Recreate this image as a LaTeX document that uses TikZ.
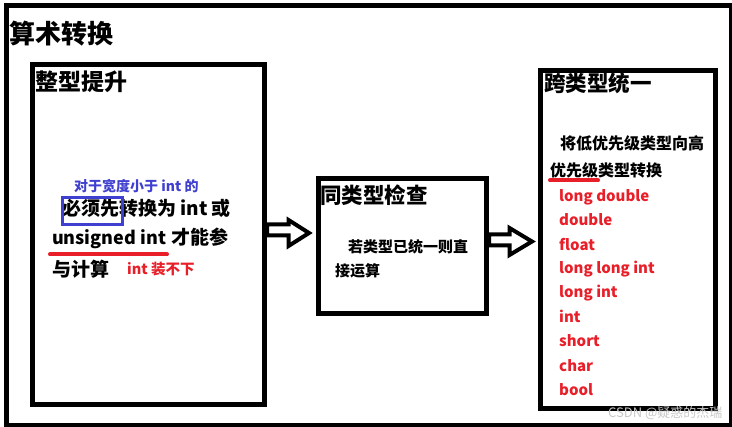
\documentclass[tikz,border=0pt]{standalone}
\usepackage{fontspec}
\setmainfont{Noto Sans CJK SC}
\definecolor{tblue}{RGB}{64,64,208}
\definecolor{tred}{RGB}{232,30,40}
\definecolor{wmgray}{RGB}{200,200,200}
\tikzset{
  frame/.style={draw=black, line width=5pt, inner sep=0pt, anchor=north west},
  txt/.style={anchor=base west, inner sep=0pt, font=\bfseries},
  redtxt/.style={txt, text=tred},
  blockarrow/.style={draw=black, line width=4pt, fill=white, line join=miter},
  uline/.style={draw=tred, line width=4pt, line cap=round}
}
\newcommand{\fs}[1]{\fontsize{#1}{#1}\selectfont}
\begin{document}
\begin{tikzpicture}[x=1pt,y=-1pt]
\useasboundingbox (0,0) rectangle (732,427);
% outer frame
\node[frame, minimum width=725pt, minimum height=420pt] (outer) at (3.5,3.5) {};
\node[txt] (title) at (9,43.5) {\fs{26}算术转换};
% box 1
\node[frame, minimum width=232pt, minimum height=340.5pt] (b1) at (29.5,62) {};
\node[txt] (t1) at (35,91) {\fs{23}整型提升};
\node[txt, text=tblue] (l1) at (74,191.5) {\fs{14}对于宽度小于 int 的};
\node[txt] (l2) at (62,216) {\fs{19}必须先转换为 int 或};
\node[draw=tblue, line width=3pt, inner sep=0pt, anchor=north west, minimum width=60pt, minimum height=27pt] (hl) at (61,196) {};
\node[txt] (l3) at (52,244.5) {\fs{18}unsigned int\hspace{5pt}\fs{19}才能参};
\coordinate (u1a) at (50,254.5);
\coordinate (u1b) at (167,254.5);
\draw[uline] (u1a) -- (u1b);
\node[txt] (l4) at (52,277) {\fs{19}与计算};
\node[redtxt] (l5) at (127,274.5) {\fs{14.5}int 装不下};
% box 2
\node[frame, minimum width=168pt, minimum height=135pt] (b2) at (316,176) {};
\node[txt] (t2) at (320,204) {\fs{21.5}同类型检查};
\node[txt] (m1) at (348,253) {\fs{15}若类型已统一则直};
\node[txt] (m2) at (335,277) {\fs{15}接运算};
% box 3
\node[frame, minimum width=175pt, minimum height=338pt] (b3) at (538,68) {};
\node[txt] (t3) at (544,92) {\fs{21.5}跨类型统一};
\node[txt] (r1) at (560,149.5) {\fs{16}将低优先级类型向高};
\node[txt] (r2) at (550,176.5) {\fs{16}优先级类型转换};
\coordinate (u2a) at (550,180.5);
\coordinate (u2b) at (598,180.5);
\draw[uline] (u2a) -- (u2b);
\node[redtxt] (k1) at (559,201.5) {\fs{15}long double};
\node[redtxt] (k2) at (559,226) {\fs{15}double};
\node[redtxt] (k3) at (559,250.5) {\fs{15}float};
\node[redtxt] (k4) at (559,273.5) {\fs{15}long long int};
\node[redtxt] (k5) at (559,298) {\fs{15}long int};
\node[redtxt] (k6) at (559,322.5) {\fs{15}int};
\node[redtxt] (k7) at (559,347) {\fs{15}short};
\node[redtxt] (k8) at (559,371.5) {\fs{15}char};
\node[redtxt] (k9) at (559,395.5) {\fs{15}bool};
% block arrows
\draw[blockarrow] (267,224.5) -- (288.5,224.5) -- (288.5,220) -- (309,233) -- (288.5,246) -- (288.5,235.5) -- (267,235.5) -- cycle;
\draw[blockarrow] (489,234.5) -- (509.5,234.5) -- (509.5,228) -- (532,241.5) -- (509.5,255) -- (509.5,245.5) -- (489,245.5) -- cycle;
% watermark
\node[anchor=base west, inner sep=0pt, text=wmgray] (wm) at (608,417.5) {\fs{13}CSDN @疑惑的杰瑞};
\end{tikzpicture}
\end{document}
